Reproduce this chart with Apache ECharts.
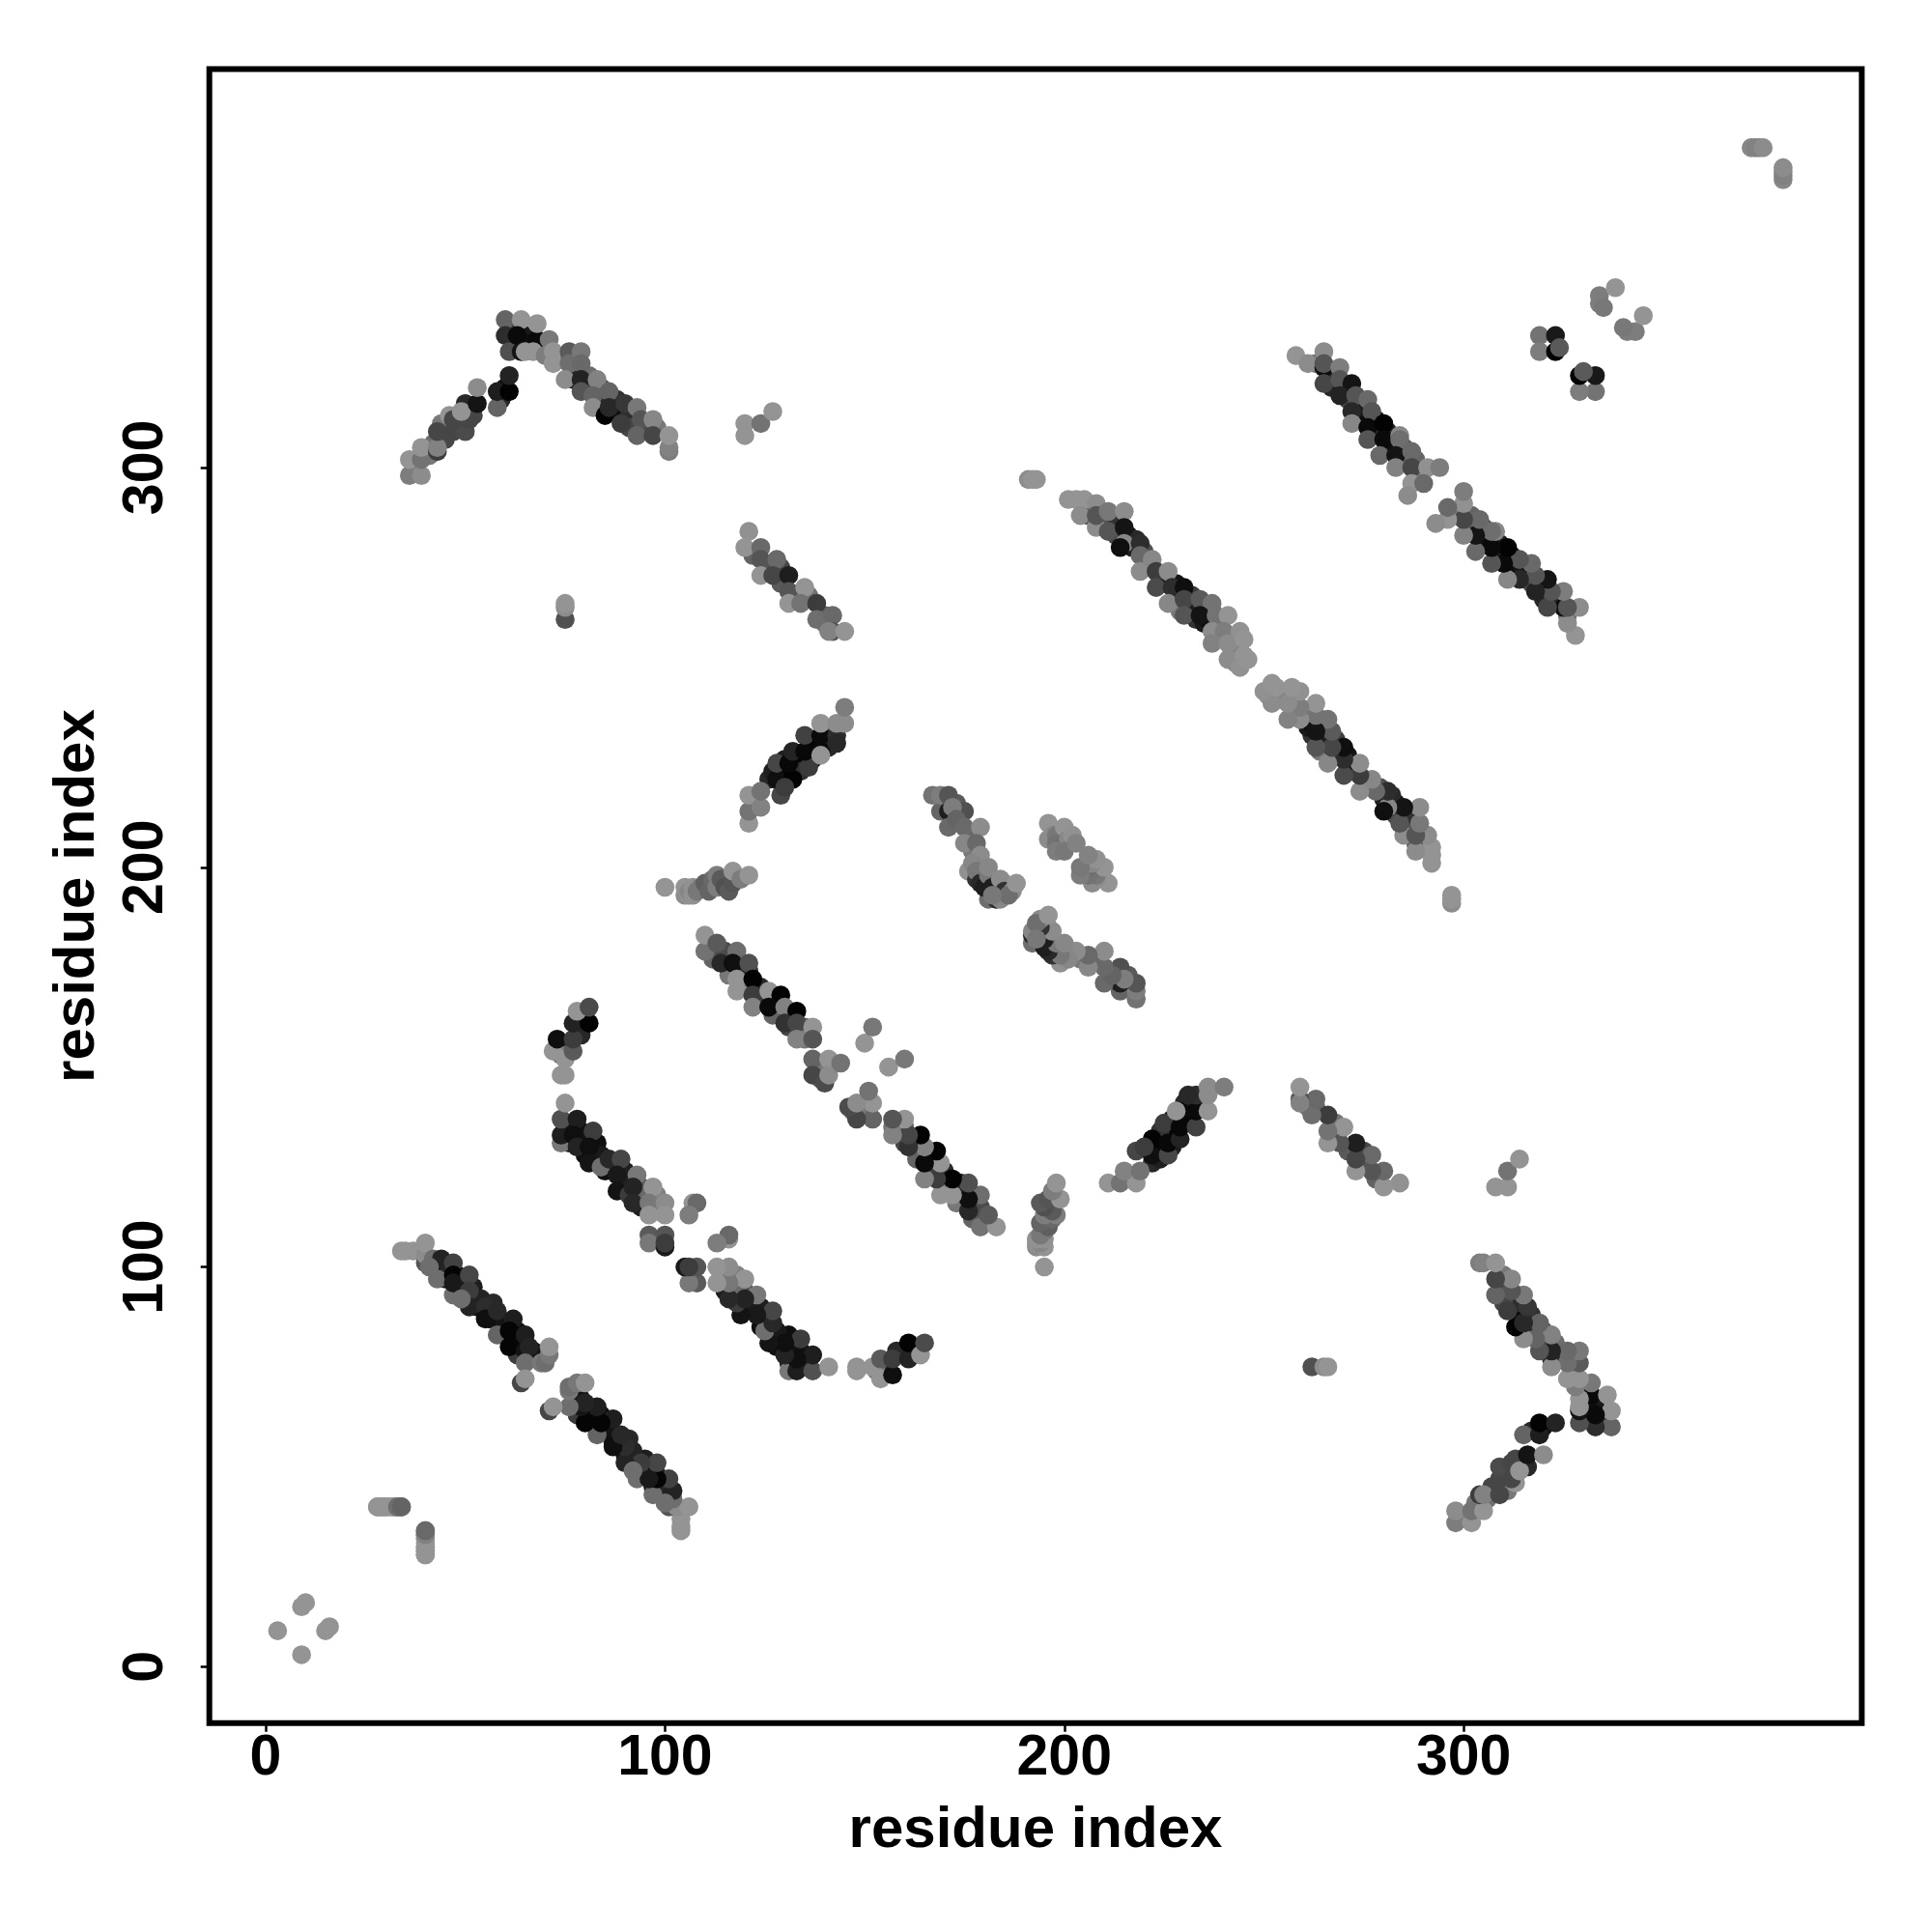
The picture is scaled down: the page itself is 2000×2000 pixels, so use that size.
<!DOCTYPE html>
<html><head><meta charset="utf-8">
<style>html,body{margin:0;padding:0;background:#fff}#c{width:2000px;height:2000px}</style>
<script src="https://cdn.jsdelivr.net/npm/echarts@6/dist/echarts.min.js"></script>
</head><body><div id="c"></div>
<script>
// Contact map, one triangle only (residue i, residue j, grey level of the contact)
const shortRange=[[3,9,148],[9,15,148],[10,16,148]];
const turn40=[[28,40,148],[29,40,148],[30,40,148],[31,40,148],[32,40,148],[33,40,130],[34,40,105],[40,28,148],[40,29,148],[40,30,148],[40,32,148],[40,33,110],[40,34,100]];
const innerA=[[42,100,30],[44,100,25],[45,97,25],[46,100,40],[48,98,15],[49,94,25],[50,96,15],[52,95,30],[53,90,20],[54,92,35],[56,89,15],[56,87,15],[57,91,40],[59,85,15],[60,86,20],[60,83,10],[62,82,10],[63,84,15],[64,80,10],[63,78,60],[67,79,20]];
const sheetA=[[34,104,148],[35,104,148],[37,104,148],[39,104,148],[40,101,85],[40,103,140],[40,106,148],[42,102,110],[44,102,35],[43,97,110],[41,100,110],[47,101,65],[47,93,110],[47,98,5],[47,96,25],[51,98,70],[51,94,60],[51,90,35],[49,92,110],[55,90,45],[55,87,15],[58,89,40],[58,83,100],[62,87,30],[61,84,5],[61,80,5],[65,83,30],[65,79,20],[66,80,35],[65,76,110],[69,76,120],[70,76,110],[71,78,120],[71,80,148],[64,71,70],[65,72,148]];
const innerB=[[75,135,35],[76,136,25],[76,131,30],[79,134,15],[80,132,20],[80,128,15],[83,131,15],[84,128,25],[85,124,15],[87,125,20],[90,124,30],[90,120,20],[91,122,30],[93,118,25],[94,120,85],[94,115,30],[95,118,105],[98,114,130],[98,118,130]];
const sheetB=[[74,131,120],[74,133,30],[74,137,80],[75,141,148],[78,137,30],[77,133,15],[78,130,35],[82,134,60],[81,130,15],[81,126,20],[84,125,110],[86,127,40],[89,127,70],[88,123,25],[88,119,20],[91,118,60],[93,123,120],[92,120,35],[92,116,40],[97,120,148],[96,116,120],[100,116,140],[96,113,148],[100,113,148],[96,108,90],[96,106,120],[100,105,25],[100,108,85],[100,106,60],[107,116,148],[108,116,105],[106,113,125]];
const innerStrand=[[75,155,30],[76,156,60],[74,153,115],[79,158,40],[79,162,25],[80,163,110]];
const strand75=[[72,154,148],[74,148,148],[75,148,148],[75,152,148],[77,154,90],[73,157,15],[77,157,60],[77,161,35],[81,161,3],[78,164,148],[81,165,75]];
const innerC=[[112,177,100],[112,180,85],[115,179,75],[116,175,60],[116,173,120],[119,175,20],[120,172,25],[120,170,120],[121,174,40],[123,170,10],[124,167,60],[124,170,40],[127,166,15],[127,163,100],[128,167,10],[131,163,15],[131,160,70],[132,162,25],[135,160,100],[135,157,120],[138,150,100],[139,151,120],[139,147,90]];
const sheetC=[[110,179,115],[110,183,148],[113,181,90],[114,176,40],[118,179,110],[117,176,15],[121,176,80],[118,172,148],[122,172,3],[118,169,148],[122,168,60],[122,165,130],[126,169,148],[129,168,3],[126,165,10],[130,165,130],[133,164,3],[130,161,50],[133,161,70],[133,157,130],[137,160,148],[137,157,85],[137,152,100],[137,148,70],[140,146,75],[141,152,148],[141,148,140],[144,151,115],[150,156,148],[152,160,120]];
const innerArm=[[37,300,130],[41,303,120],[42,306,110],[45,307,70],[44,311,120],[48,310,55],[49,311,60],[52,313,70],[59,317,40],[60,320,15],[61,335,60],[62,331,20],[65,333,25],[66,331,15],[69,331,45],[74,327,110],[77,325,95],[77,322,40],[80,320,70],[81,323,110],[84,320,80],[84,316,45],[87,314,15],[88,317,50],[91,313,45],[91,310,70],[95,310,70],[98,310,120]];
const arm40=[[36,298,125],[39,298,140],[36,302,148],[39,302,115],[39,305,148],[43,304,60],[43,305,130],[43,309,70],[47,309,70],[50,309,75],[46,313,148],[47,312,70],[51,312,70],[50,316,40],[49,314,148],[53,316,20],[53,320,140],[58,315,100],[58,319,30],[61,319,3],[61,323,35]];
const armPeak=[[60,337,100],[60,333,45],[61,329,80],[64,337,148],[63,333,10],[64,329,20],[65,329,148],[68,332,10],[68,336,148],[67,329,148],[71,332,120],[70,328,125],[72,329,148],[72,326,148],[76,329,90],[76,326,110],[79,329,120],[79,326,105],[75,322,140],[79,322,35],[83,322,130],[79,319,85],[82,318,100],[86,319,100],[82,315,140],[85,313,3],[86,315,40],[90,316,55],[89,311,60],[93,315,120],[94,312,85],[97,312,135],[93,308,100],[97,308,70],[101,304,125],[101,305,130],[101,308,148]];
const small120=[[120,311,148],[120,308,148],[124,311,115],[127,314,148]];
const small75=[[75,262,80],[75,265,140],[75,266,148]];
const innerG=[[122,278,100],[126,275,85],[129,275,70],[129,271,90],[133,268,100],[136,268,115],[140,263,100],[140,261,115]];
const clusterG=[[121,284,145],[120,280,148],[124,280,105],[124,277,85],[124,273,148],[128,277,105],[127,273,70],[131,273,30],[131,269,85],[135,270,148],[131,266,148],[134,266,115],[138,266,60],[138,262,110],[142,263,105],[142,259,85],[141,259,130],[145,259,148]];
const innerE=[[126,222,40],[127,224,30],[129,224,10],[130,227,30],[131,223,3],[133,225,10],[134,227,5],[134,224,50],[136,230,5],[137,227,20],[137,231,50],[138,230,5],[140,231,25],[141,234,50],[141,230,40],[142,235,90]];
const clusterE=[[121,211,148],[121,214,115],[121,218,148],[124,215,130],[124,219,115],[129,218,70],[128,222,15],[128,226,70],[132,222,3],[130,220,60],[131,226,8],[132,229,35],[136,225,60],[135,229,8],[135,233,65],[139,229,10],[139,228,148],[139,233,10],[139,236,148],[143,233,45],[143,231,40],[143,236,140],[145,236,140],[145,240,125]];
const clusterH=[[100,195,148],[105,193,140],[105,195,148],[106,193,145],[106,194,135],[107,193,145],[107,195,145],[108,194,120],[109,195,120],[110,196,95],[111,194,100],[112,197,105],[113,198,125],[113,195,125],[114,197,90],[115,195,80],[116,194,90],[117,196,85],[117,199,148],[119,197,125],[121,198,148]];
const innerI=[[169,214,100],[173,216,90],[177,208,105],[177,204,120],[179,200,60],[180,197,60],[183,196,90],[181,192,110],[185,196,140],[183,192,40]];
const sheetI=[[167,218,115],[169,218,125],[171,218,85],[171,214,30],[175,214,80],[172,215,125],[171,210,105],[173,212,100],[175,210,105],[179,210,140],[175,206,135],[178,206,105],[179,203,140],[176,199,145],[177,201,135],[178,197,50],[178,199,120],[179,196,40],[180,195,30],[181,198,120],[181,200,135],[182,195,30],[183,194,30],[184,197,140],[184,192,135],[185,194,50],[187,194,140],[186,193,110],[188,196,148],[182,193,120]];
const clusterJ=[[196,211,148],[197,208,140],[196,207,140],[198,208,120],[198,206,115],[200,210,148],[200,206,110],[198,204,125],[201,207,135],[202,208,145],[200,204,120],[203,206,130]];
const pair297=[[191,297,140],[192,297,148],[193,297,148]];
const innerL=[[206,288,90],[209,287,70],[210,286,50],[212,287,85],[213,283,70],[213,286,50],[216,283,15],[217,280,30],[218,282,40],[220,277,85],[220,279,80],[221,275,60],[224,272,60],[225,271,25],[228,268,25],[228,271,20],[229,264,120],[231,265,70],[232,268,60],[232,265,30],[233,262,50],[235,264,30],[235,261,25],[236,262,15],[238,260,10],[239,258,90],[239,261,80],[242,257,120],[243,254,140],[242,254,130],[243,251,140]];
const sheetL=[[201,292,148],[203,292,148],[205,292,148],[204,288,140],[208,291,140],[208,285,140],[208,288,85],[211,284,85],[211,289,120],[215,289,140],[215,285,20],[215,281,135],[214,280,15],[219,281,45],[219,278,105],[219,274,140],[222,277,135],[223,274,60],[223,270,75],[226,274,140],[227,270,45],[230,270,15],[226,266,135],[230,267,70],[230,263,85],[234,267,90],[237,266,115],[234,263,20],[238,263,115],[241,263,148],[237,259,140],[240,259,125],[244,259,145],[237,256,130],[241,256,140],[245,257,148],[241,252,140],[245,253,148],[244,250,145],[246,252,148]];
const innerM=[[263,326,110],[267,323,60],[267,320,40],[268,324,45],[270,320,15],[271,319,25],[271,317,70],[274,316,35],[274,313,15],[275,315,25],[278,312,15],[278,309,15],[277,309,40],[281,309,30],[281,305,30],[282,306,15],[285,305,80],[285,302,100],[288,302,100],[288,298,135],[289,298,120]];
const sheetM=[[258,328,148],[261,326,140],[265,329,140],[265,325,15],[265,326,85],[269,325,125],[265,321,70],[269,322,85],[272,321,20],[269,318,35],[273,318,85],[276,317,105],[272,314,40],[272,311,135],[277,314,85],[276,310,10],[276,307,85],[280,311,3],[280,307,10],[284,308,135],[284,307,110],[279,303,105],[283,303,20],[287,304,105],[283,300,130],[287,300,70],[291,300,145],[294,300,125],[287,296,148],[290,296,105],[286,293,140]];
const corner320=[[319,333,115],[319,329,125],[323,333,25],[323,329,3],[324,330,90]];
const corner335=[[334,343,125],[334,341,125],[335,340,120],[338,345,148]];
const cornerTop=[[372,380,135],[373,380,130],[374,380,130],[375,380,140]];

const tickValues=[0,100,200,300];
const axisTitle='residue index';

const triangle=[].concat(innerA,innerB,innerStrand,innerC,innerArm,innerG,innerE,innerI,innerL,innerM,shortRange,turn40,sheetA,sheetB,strand75,sheetC,arm40,armPeak,small120,small75,clusterG,clusterE,clusterH,sheetI,clusterJ,pair297,sheetL,sheetM,corner320,corner335,cornerTop);
// The contact map is symmetric: each contact (i,j) also appears as (j,i)
const contacts=triangle.concat(triangle.map(p=>[p[1],p[0],p[2]]));

function axis(extra){return Object.assign({
  type:'value',min:-14.1,max:399.7,name:axisTitle,nameLocation:'middle',
  nameTextStyle:{fontFamily:'Liberation Sans',fontWeight:'bold',fontSize:60,color:'#000'},
  splitLine:{show:false},axisLine:{show:false,onZero:false},
  axisTick:{show:true,length:9,lineStyle:{color:'#000',width:2.5},customValues:tickValues},
  axisLabel:{show:true,fontFamily:'Liberation Sans',fontWeight:'bold',fontSize:59,color:'#000',customValues:tickValues,formatter:v=>String(v)}
},extra);}

const chart=echarts.init(document.getElementById('c'),null,{renderer:'canvas'});
chart.setOption({
  animation:false,backgroundColor:'#fff',
  grid:{left:216.7,right:72.7,top:71.4,bottom:216.3,show:true,borderColor:'#000',borderWidth:6,backgroundColor:'transparent'},
  xAxis:axis({nameGap:82}),
  yAxis:axis({nameGap:106,axisLabel:{show:true,rotate:90,margin:35,fontFamily:'Liberation Sans',fontWeight:'bold',fontSize:59,color:'#000',customValues:tickValues,formatter:v=>String(v)}}),
  visualMap:{show:false,type:'continuous',dimension:2,min:0,max:150,seriesIndex:0,inRange:{color:['#000000','#969696']}},
  series:[{type:'scatter',data:contacts,symbol:'circle',symbolSize:19.6,silent:true,clip:true,itemStyle:{opacity:1,borderWidth:0}}]
});
</script></body></html>
